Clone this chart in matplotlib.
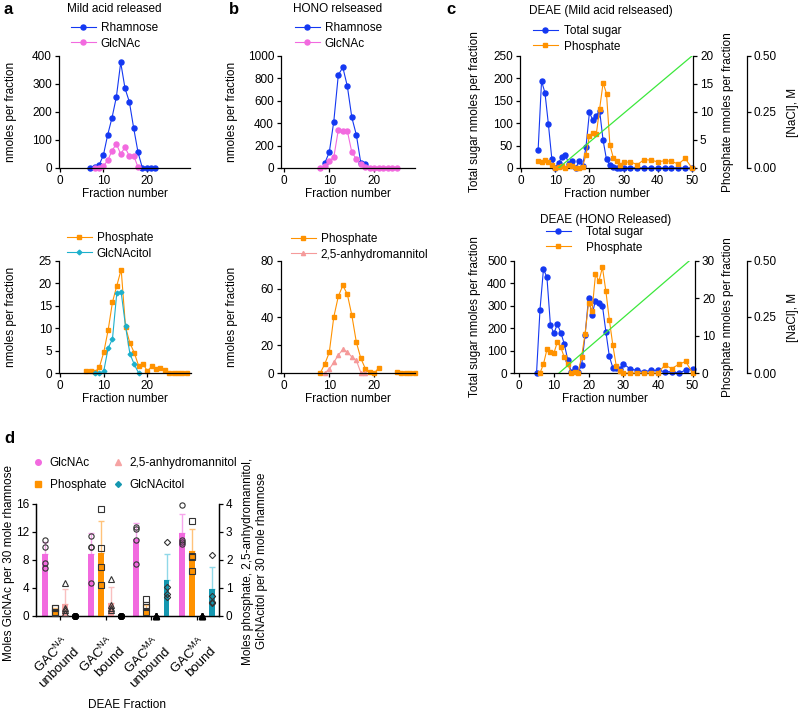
import numpy as np
import matplotlib
matplotlib.use("Agg")
import matplotlib.pyplot as plt
from matplotlib.lines import Line2D
from matplotlib.transforms import ScaledTranslation

W, H = 798, 710

# ---- a: mild acid released ----
a_rha_x = [7, 8, 9, 10, 11, 12, 13, 14, 15, 16, 17, 18, 19, 20, 21, 22]
a_rha_y = [0, 5, 10, 46, 119, 180, 254, 377, 284, 236, 142, 56, 0, 0, 0, 0]
a_glc_x = [8, 9, 10, 11, 12, 13, 14, 15, 16, 17, 18]
a_glc_y = [0, 0, 7, 27, 62, 86, 50, 74, 42, 44, 3]
a_pho_x = list(range(6, 30))
a_pho_y = [0.5, 0.5, 0.2, 1.3, 4.6, 9.5, 15.8, 19.5, 23.1, 10.2, 6.7, 4.5,
           1.6, 2.1, 0.4, 1.5, 0.9, 1.2, 0.6, 0, 0, 0, 0, 0]
a_citol_x = list(range(8, 19))
a_citol_y = [0, 0, 0.4, 5.5, 7.6, 17.9, 18.0, 10.4, 4.3, 1.9, 0]

# ---- b: HONO released ----
b_rha_x = list(range(9, 19))
b_rha_y = [45, 140, 415, 830, 899, 731, 451, 296, 42, 36]
b_glc_x = list(range(8, 26))
b_glc_y = [0, 18, 63, 95, 340, 331, 331, 140, 81, 33, 9, 0, 0, 0, 0, 0, 0, 0]
b_pho_x = list(range(8, 30))
b_pho_y = [0, 6.4, 14.7, 40, 54.7, 62.5, 56.3, 41.2, 22, 10.4, 3.1, 0.7, 0, 3.8,
           np.nan, np.nan, np.nan, 0.5, 0, 0, 0, 0]
b_anh_x = list(range(9, 19))
b_anh_y = [0, 2.8, 7.6, 12.8, 16.8, 15.1, 11.4, 9.0, 0.2, 0]

# ---- c: DEAE columns ----
tail_x = [32, 34, 36, 38, 40, 42, 44, 46, 48, 50]
c1_x = list(range(5, 31)) + tail_x
c1_sugar = [40, 194, 168, 98, 21, 0, 12, 25, 28, 10, 16, 0, 16, 4, 47, 124, 107,
            117, 127, 62, 19, 7, 2, 0, 0, 0] + [0] * 10
c1_pho = [1.25, 1.0, 1.4, 1.1, 0.5, 0, 0.2, 0.3, 0, 0.5, 0.3, 0, 0, 0.2, 2.4, 5.7,
          6.3, 6.0, 10.6, 15.2, 13.3, 4.1, 1.8, 1.3, 0.6, 1.0,
          1.1, 0.6, 1.5, 1.4, 1.1, 1.3, 1.2, 0.7, 1.7, 0]
c1_nacl_x = [11, 50]
c1_nacl_y = [0, 0.5]

c2_x = list(range(5, 31)) + tail_x
c2_sugar = [0, 283, 464, 427, 215, 177, 218, 180, 130, 59, 6, 21, 4, 34, 169, 335,
            261, 323, 312, 301, 184, 74, 24, 21, 16, 42,
            18, 12, 6, 12, 12, 6, 6, 0, 13, 18]
c2_pho_x = list(range(6, 31)) + tail_x
c2_pho = [0, 2.4, 6.3, 5.5, 5.3, 8.3, 6.9, 4.2, 2.4, 0, 0.3, 0, 4.4, 10.5, 18.8,
          16.6, 26.4, 24.6, 28.3, 21.9, 14.2, 7.5, 1.8, 0.6, 0,
          0, 0, 0, 0, 0, 2.1, 1.2, 2.3, 3.1, 0]
c2_nacl_x = [11.5, 49]
c2_nacl_y = [0, 0.5]

# ---- d: composition of DEAE fractions ----
d_groups = ['GAC$^{\\mathrm{NA}}$\nunbound', 'GAC$^{\\mathrm{NA}}$\nbound',
            'GAC$^{\\mathrm{MA}}$\nunbound', 'GAC$^{\\mathrm{MA}}$\nbound']
d_glc_mean = [8.8, 8.9, 10.95, 11.9]
d_glc_err = [1.8, 2.9, 2.35, 2.7]
d_glc_pts = [[10.9, 9.8, 7.6, 6.9], [11.5, 9.8, 9.8, 4.7],
             [12.7, 12.5, 10.9, 7.5], [15.9, 10.8, 10.6, 10.3]]
d_pho_mean = [0.2, 2.26, 0.19, 2.31]
d_pho_err = [0.1, 1.14, 0.2, 0.8]
d_pho_pts = [[0.3, 0.28, 0.15, 0.1], [3.81, 2.42, 1.75, 1.1],
             [0.62, 0.38, 0.31, 0.14], [3.4, 2.14, 2.12, 1.62]]
d_anh_mean = [0.43, 0.45, 0, 0]
d_anh_err = [0.53, 0.57, 0, 0]
d_anh_pts = [[1.17, 0.3, 0.2, 0.1], [1.31, 0.4, 0.3, 0.2],
             [0, 0, 0, 0], [0, 0, 0, 0]]
d_cit_mean = [0, 0, 1.28, 0.95]
d_cit_err = [0, 0, 0.93, 0.81]
d_cit_pts = [[0, 0, 0, 0], [0, 0, 0, 0],
             [2.64, 1.02, 0.78, 0.69], [2.17, 0.71, 0.51, 0.46]]

BLUE = '#1438F2'
PINK = '#F26ADF'
ORANGE = '#FF9200'
CYAN = '#1DB0CC'
SALMON = '#F59A9A'
GREEN = '#3CE83C'
TEAL = '#1497B0'

plt.rcParams['font.family'] = ['Liberation Sans', 'DejaVu Sans']
plt.rcParams['font.size'] = 8.5
plt.rcParams['mathtext.fontset'] = 'custom'
plt.rcParams['mathtext.rm'] = 'Liberation Sans'
plt.rcParams['axes.linewidth'] = 0.9
plt.rcParams['xtick.major.width'] = 0.9
plt.rcParams['ytick.major.width'] = 0.9
plt.rcParams['xtick.major.size'] = 3
plt.rcParams['ytick.major.size'] = 3
plt.rcParams['xtick.major.pad'] = 2
plt.rcParams['ytick.major.pad'] = 2

fig = plt.figure(figsize=(W / 100, H / 100), dpi=100)


def fpos(x, y):
    return x / W, 1 - y / H


def add_ax(l, t, r, b):
    return fig.add_axes([l / W, 1 - b / H, (r - l) / W, (b - t) / H])


def style(ax):
    ax.spines['top'].set_visible(False)
    ax.spines['right'].set_visible(False)


def series(ax, x, y, color, marker, ms, label):
    ax.plot(x, y, color=color, lw=0.8, marker=marker, ms=ms, mfc=color, mec=color,
            label=label, clip_on=False)


def put_legend(ax, handles, x, y, textpad=0.4):
    ax.legend(handles=handles, loc='upper left', bbox_to_anchor=fpos(x, y),
              bbox_transform=fig.transFigure, frameon=False, handlelength=2.1,
              handletextpad=textpad, labelspacing=0.3, borderpad=0, borderaxespad=0)


def frac_panel(box, xlim, ymax, ystep, lines, title, leg_xy, ylab_x):
    ax = add_ax(*box)
    style(ax)
    handles = []
    for x, y, c, m, ms, lab in lines:
        series(ax, x, y, c, m, ms, lab)
        handles.append(Line2D([], [], color=c, lw=0.8, marker=m, ms=ms, label=lab))
    ax.set_xlim(*xlim)
    ax.set_ylim(0, ymax)
    ax.set_xticks([0, 10, 20])
    ax.set_yticks(np.arange(0, ymax + 1, ystep))
    ax.set_xlabel('Fraction number', labelpad=1)
    ax.set_ylabel('nmoles per fraction')
    ax.yaxis.set_label_coords(*fpos(ylab_x, (box[1] + box[3]) / 2), transform=fig.transFigure)
    put_legend(ax, handles, *leg_xy)
    if title:
        fig.text(*fpos(*title[1]), title[0], ha='center', va='center')
    return ax


frac_panel((59, 56, 190, 168), (-0.25, 30), 400, 100,
           [(a_rha_x, a_rha_y, BLUE, 'o', 3.6, 'Rhamnose'),
            (a_glc_x, a_glc_y, PINK, 'o', 3.6, 'GlcNAc')],
           ('Mild acid released', (114, 9)), (71, 22), 17)
frac_panel((281, 56, 415, 168), (-0.7, 29), 1000, 200,
           [(b_rha_x, b_rha_y, BLUE, 'o', 3.6, 'Rhamnose'),
            (b_glc_x, b_glc_y, PINK, 'o', 3.6, 'GlcNAc')],
           ('HONO relseased', (338, 9)), (295, 22), 238)
frac_panel((59, 261, 191, 373), (-0.25, 30), 25, 5,
           [(a_pho_x, a_pho_y, ORANGE, 's', 3.4, 'Phosphate'),
            (a_citol_x, a_citol_y, CYAN, 'D', 2.4, 'GlcNAcitol')],
           None, (67, 232), 17)
frac_panel((281, 261, 415, 373), (-0.7, 29), 80, 20,
           [(b_pho_x, b_pho_y, ORANGE, 's', 3.4, 'Phosphate'),
            (b_anh_x, b_anh_y, SALMON, '^', 3.0, '2,5-anhydromannitol')],
           None, (291, 233), 238)


def deae_panel(box, xlim, sug, pho, nacl, smax, sstep, pmax, pstep, title, leg_xy, textpad):
    ax = add_ax(*box)
    style(ax)
    ax2 = ax.twinx()
    ax3 = ax.twinx()
    for a in (ax2, ax3):
        for s in ('top', 'left', 'bottom'):
            a.spines[s].set_visible(False)
    width = box[2] - box[0]
    ax3.spines['right'].set_position(('axes', (747 - box[0]) / width))

    series(ax, sug[0], sug[1], BLUE, 'o', 3.6, 'Total sugar')
    series(ax2, pho[0], pho[1], ORANGE, 's', 3.4, 'Phosphate')
    ax3.plot(nacl[0], nacl[1], color=GREEN, lw=0.9)

    ax.set_xlim(*xlim)
    ax.set_xticks(range(0, 51, 10))
    ax.set_ylim(0, smax)
    ax.set_yticks(np.arange(0, smax + 1, sstep))
    ax2.set_ylim(0, pmax)
    ax2.set_yticks(np.arange(0, pmax + 1, pstep))
    ax3.set_ylim(0, 0.5)
    ax3.set_yticks([0, 0.25, 0.5])
    ax3.set_yticklabels(['0.00', '0.25', '0.50'])

    ymid = (box[1] + box[3]) / 2
    ax.set_xlabel('Fraction number', labelpad=1)
    ax.set_ylabel('Total sugar nmoles per fraction')
    ax.yaxis.set_label_coords(*fpos(481, ymid), transform=fig.transFigure)
    ax2.set_ylabel('Phosphate nmoles per fraction')
    ax2.yaxis.set_label_coords(*fpos(722, ymid), transform=fig.transFigure)
    ax3.set_ylabel('[NaCl], M')
    ax3.yaxis.set_label_coords(*fpos(787, ymid), transform=fig.transFigure)

    handles = [Line2D([], [], color=BLUE, lw=0.8, marker='o', ms=3.6, label='Total sugar'),
               Line2D([], [], color=ORANGE, lw=0.8, marker='s', ms=3.4, label='Phosphate')]
    put_legend(ax3, handles, *leg_xy, textpad=textpad)
    fig.text(*fpos(*title[1]), title[0], ha='center', va='center')


deae_panel((520, 56, 693, 168), (-0.3, 50.3), (c1_x, c1_sugar), (c1_x, c1_pho),
           (c1_nacl_x, c1_nacl_y), 250, 50, 20, 5,
           ('DEAE (Mild acid relseased)', (601, 11)), (533, 25), 0.5)
deae_panel((514, 261, 695, 373), (-1.5, 50.7), (c2_x, c2_sugar), (c2_pho_x, c2_pho),
           (c2_nacl_x, c2_nacl_y), 500, 100, 30, 10,
           ('DEAE (HONO Released)', (606, 220)), (546, 226), 1.3)

# ---- d ----
axd = add_ax(36, 504, 219, 616)
axd.spines['top'].set_visible(False)
axd2 = axd.twinx()
axd2.spines['top'].set_visible(False)
xg = np.arange(len(d_groups))
offs = [-0.33, -0.11, 0.11, 0.33]
bw = 0.13

bar_sets = [
    (axd, d_glc_mean, d_glc_err, d_glc_pts, PINK, '#F7A6EC', 'o'),
    (axd2, d_pho_mean, d_pho_err, d_pho_pts, ORANGE, '#FFC27A', 's'),
    (axd2, d_anh_mean, d_anh_err, d_anh_pts, '#F6A3A3', '#F9BFBF', '^'),
    (axd2, d_cit_mean, d_cit_err, d_cit_pts, TEAL, '#90D8E8', 'D'),
]
for k, (a, mean, err, pts, col, ecol, mk) in enumerate(bar_sets):
    xs = xg + offs[k]
    a.bar(xs, mean, width=bw, color=col, zorder=2)
    a.errorbar(xs, mean, yerr=[np.zeros(len(err)), err], fmt='none', ecolor=ecol,
               elinewidth=1.0, capsize=2, capthick=1.0, zorder=1)
    for i, vals in enumerate(pts):
        for v in vals:
            if v == 0:
                zm = '^' if k == 2 else 'o'
                a.plot(xs[i], v, marker=zm, ms=4, mfc='black', mec='black', clip_on=False, zorder=4)
            else:
                a.plot(xs[i], v, marker=mk, ms=3.2 if mk == 'D' else 3.8, mfc='none',
                       mec='#333333', mew=0.8, clip_on=False, zorder=4)

axd.set_xlim(-0.53, 3.48)
axd.set_ylim(0, 16)
axd.set_yticks([0, 4, 8, 12, 16])
axd2.set_ylim(0, 4)
axd2.set_yticks([0, 1, 2, 3, 4])
axd.set_xticks(xg)
axd.tick_params(axis='x', pad=10)
axd.set_xticklabels(d_groups, rotation=45, ha='right', va='top', rotation_mode='anchor',
                    multialignment='right', fontsize=9.5, linespacing=1.05)
shift = ScaledTranslation(0.015, 0, fig.dpi_scale_trans)
for lab in axd.get_xticklabels():
    lab.set_transform(lab.get_transform() + shift)
axd.set_xlabel('DEAE Fraction')
axd.xaxis.set_label_coords(*fpos(127.5, 699), transform=fig.transFigure)
axd.set_ylabel('Moles GlcNAc per 30 mole rhamnose')
axd.yaxis.set_label_coords(*fpos(15, 563), transform=fig.transFigure)
axd2.set_ylabel('Moles phosphate, 2,5-anhydromannitol,\nGlcNAcitol per 30 mole rhamnose',
                multialignment='center')
axd2.yaxis.set_label_coords(*fpos(242, 561), transform=fig.transFigure)

d_handles = [
    Line2D([], [], ls='none', marker='o', ms=4, color=PINK, label='GlcNAc'),
    Line2D([], [], ls='none', marker='s', ms=4, color=ORANGE, label='Phosphate'),
    Line2D([], [], ls='none', marker='^', ms=4, color='#F6A3A3', label='2,5-anhydromannitol'),
    Line2D([], [], ls='none', marker='D', ms=3, color=TEAL, label='GlcNAcitol'),
]
axd2.legend(handles=d_handles, ncol=2, loc='upper left', bbox_to_anchor=fpos(32, 457),
            bbox_transform=fig.transFigure, frameon=False, handlelength=1.0,
            handletextpad=0.5, columnspacing=0.5, labelspacing=0.85, borderpad=0,
            borderaxespad=0)

for letter, (x, y) in zip('abcd', [(4, 2), (229, 2), (446, 2), (4, 431)]):
    fig.text(*fpos(x, y), letter, ha='left', va='top', fontsize=12, fontweight='bold')

fig.savefig('out.png', dpi=100)
